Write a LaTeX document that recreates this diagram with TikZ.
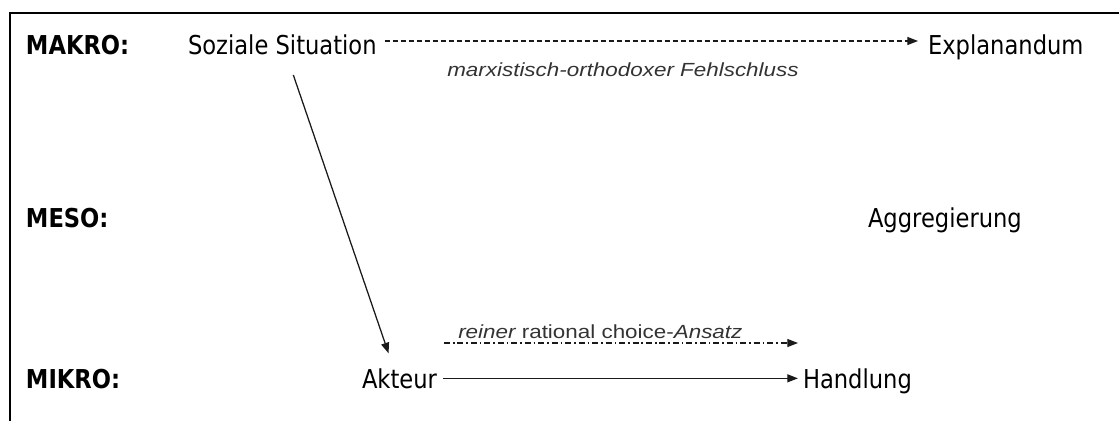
\documentclass[tikz,border=0pt]{standalone}
\usepackage{fontspec}
\newfontfamily\tah[FakeStretch=0.87]{DejaVu Sans}
\newfontfamily\labf[FakeStretch=1.18]{Liberation Sans}
\usetikzlibrary{arrows.meta}
\definecolor{labgray}{HTML}{333333}
\definecolor{linegray}{HTML}{1A1A1A}
\tikzset{
  txt/.style={inner sep=0pt, outer sep=0pt, anchor=base west, text height=14.5pt, text depth=0pt,
    font=\tah\fontsize{19.5pt}{22pt}\selectfont},
  lvl/.style={txt, font=\tah\bfseries\fontsize{19.5pt}{22pt}\selectfont},
  lab/.style={inner sep=0pt, anchor=base west, text=labgray,
    font=\labf\fontsize{14.25pt}{16pt}\selectfont},
  tip/.style={-{Triangle[length=8pt,width=6pt]}},
  solidarr/.style={tip, line width=0.95pt, draw=linegray},
  dasharr/.style={tip, line width=0.8pt, draw=linegray, dash pattern=on 3.8pt off 2.2pt},
  dotdasharr/.style={tip, line width=0.8pt, draw=linegray, dash pattern=on 4.5pt off 2.2pt on 1.2pt off 2.2pt},
  frameline/.style={line width=1.9pt, line join=miter}
}
\begin{document}
\begin{tikzpicture}[x=0.75pt,y=-0.75pt]
\useasboundingbox (0,0) rectangle (1119,421);
% frame
\draw[frameline] (1119,13) -- (10,13) -- (10,421);
% level labels
\node[lvl] (makro) at (26,54) {MAKRO:};
\node[lvl] (meso) at (26,227) {MESO:};
\node[lvl] (mikro) at (26,388) {MIKRO:};
% nodes
\node[txt] (soz) at (188,54) {Soziale Situation};
\node[txt] (expl) at (928,54) {Explanandum};
\node[txt] (aggr) at (868,227) {Aggregierung};
\node[txt] (akt) at (362,388) {Akteur};
\node[txt] (hand) at (803,388) {Handlung};
% labels
\node[lab] (lmarx) at (447,76) {\itshape marxistisch-orthodoxer Fehlschluss};
\node[lab] (lrc) at (458,338) {\itshape reiner\upshape{} rational choice-\itshape Ansatz};
% connectors
\draw[dasharr, shorten <=6pt, shorten >=7.5pt] ([yshift=2.5pt]soz.east) -- ([yshift=2.5pt]expl.west);
\draw[solidarr] ([xshift=8.25pt,yshift=-15.75pt]soz.south) -- ([xshift=-8.2pt,yshift=11.5pt]akt.north);
\draw[solidarr, shorten <=4.5pt, shorten >=3.8pt] (akt.east) -- (hand.west);
\coordinate (rcA) at (444,343);
\coordinate (rcB) at (798,343);
\draw[dotdasharr] (rcA) -- (rcB);
\end{tikzpicture}
\end{document}
